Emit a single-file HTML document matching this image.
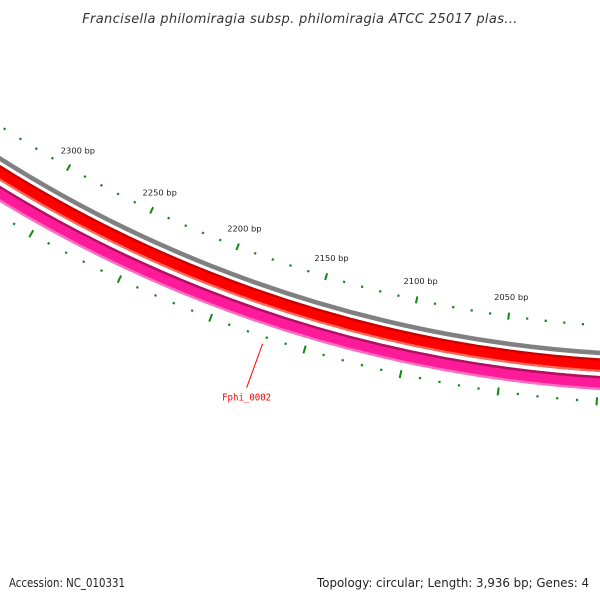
<!DOCTYPE html>
<html><head><meta charset="utf-8"><style>
html,body{margin:0;padding:0;background:#fff;}
svg{display:block;font-family:"DejaVu Sans","Liberation Sans",sans-serif;}
</style></head><body>
<svg id="map" width="600" height="600" viewBox="0 0 600 600">
<text x="300" y="23" text-anchor="middle" font-size="13" letter-spacing="0.35" font-style="italic" fill="#333">Francisella philomiragia subsp. philomiragia ATCC 25017 plas...</text>
<g id="rings"></g>
<g id="ticks"></g>
<g id="labels"></g>
<g id="feat"></g>
<text x="9" y="587" font-size="12" textLength="116" lengthAdjust="spacingAndGlyphs" fill="#222">Accession: NC_010331</text>
<text x="317" y="587" font-size="12" textLength="272" lengthAdjust="spacingAndGlyphs" fill="#222">Topology: circular; Length: 3,936 bp; Genes: 4</text>
</svg>
<script>
const tickStart = 1900;
const tickEnd = 2400;
const tickStep = 10;
const majorStep = 50;
const labelBps = [2050, 2100, 2150, 2200, 2250, 2300];
const featureNames = ["Fphi_0002"];
const featureMidBps = [2171];

const NS = "http://www.w3.org/2000/svg";
const cx = 680, cy = -917, degPerBp = 0.086, bottomBp = 1958;
function ang(bp){ return (bp - bottomBp) * degPerBp * Math.PI / 180; }
function pt(bp, r){ const a = ang(bp); return [cx - r*Math.sin(a), cy + r*Math.cos(a)]; }
function mk(tag, attrs, parent){ const e = document.createElementNS(NS, tag); for (const k in attrs) e.setAttribute(k, attrs[k]); parent.appendChild(e); return e; }

const rings = document.getElementById('rings');
const bands = [
  [1272.5, 4.6, '#808080', 'plasmid-backbone'],
  [1284.7, 13.5, '#ff0000', 'feature-red'],
  [1279, 2.2, '#c80000', 'feature-red-top'],
  [1290.4, 2.2, '#ff6a5a', 'feature-red-bottom'],
  [1302.5, 14, '#ff1a9a', 'feature-pink'],
  [1296.7, 2.4, '#b0105e', 'feature-pink-top'],
  [1308.3, 2.4, '#ff70c0', 'feature-pink-bottom']
];
bands.forEach(b => {
  const c = mk('circle', {cx: cx, cy: cy, r: b[0], fill: 'none', stroke: b[2], 'stroke-width': b[1]}, rings);
  
  
});

const ticks = document.getElementById('ticks');
for (let bp = tickStart; bp <= tickEnd; bp += tickStep) {
  const major = bp % majorStep === 0;
  [[1245, major ? 3.5 : 1.1], [1321, major ? 4 : 1.1]].forEach(([r, h], i) => {
    const p1 = pt(bp, r - h), p2 = pt(bp, r + h);
    const l = mk('line', {x1: p1[0], y1: p1[1], x2: p2[0], y2: p2[1], stroke: '#118811', 'stroke-width': major ? 2 : 2.2}, ticks);
    
    
  });
}

const labels = document.getElementById('labels');
labelBps.forEach(bp => {
  const p = pt(bp, 1226);
  const t = mk('text', {x: p[0], y: p[1] + 2.5, 'text-anchor': 'middle', 'font-size': 8.3, fill: '#222'}, labels);
  t.textContent = bp + ' bp';
  
  
});

const feat = document.getElementById('feat');
featureNames.forEach((name, i) => {
  const p1 = pt(featureMidBps[i], 1328);
  const l = mk('line', {x1: p1[0], y1: p1[1], x2: p1[0] - 16, y2: p1[1] + 44, stroke: '#ff0000', 'stroke-width': 1}, feat);
  
  
  const t = mk('text', {x: p1[0] - 16, y: p1[1] + 57, 'text-anchor': 'middle', 'font-size': 10, textLength: 49, lengthAdjust: 'spacingAndGlyphs', fill: '#ff0000', 'font-family': '"DejaVu Sans Mono","Liberation Mono",monospace'}, feat);
  t.textContent = name;
  
  
});
</script>
</body></html>
